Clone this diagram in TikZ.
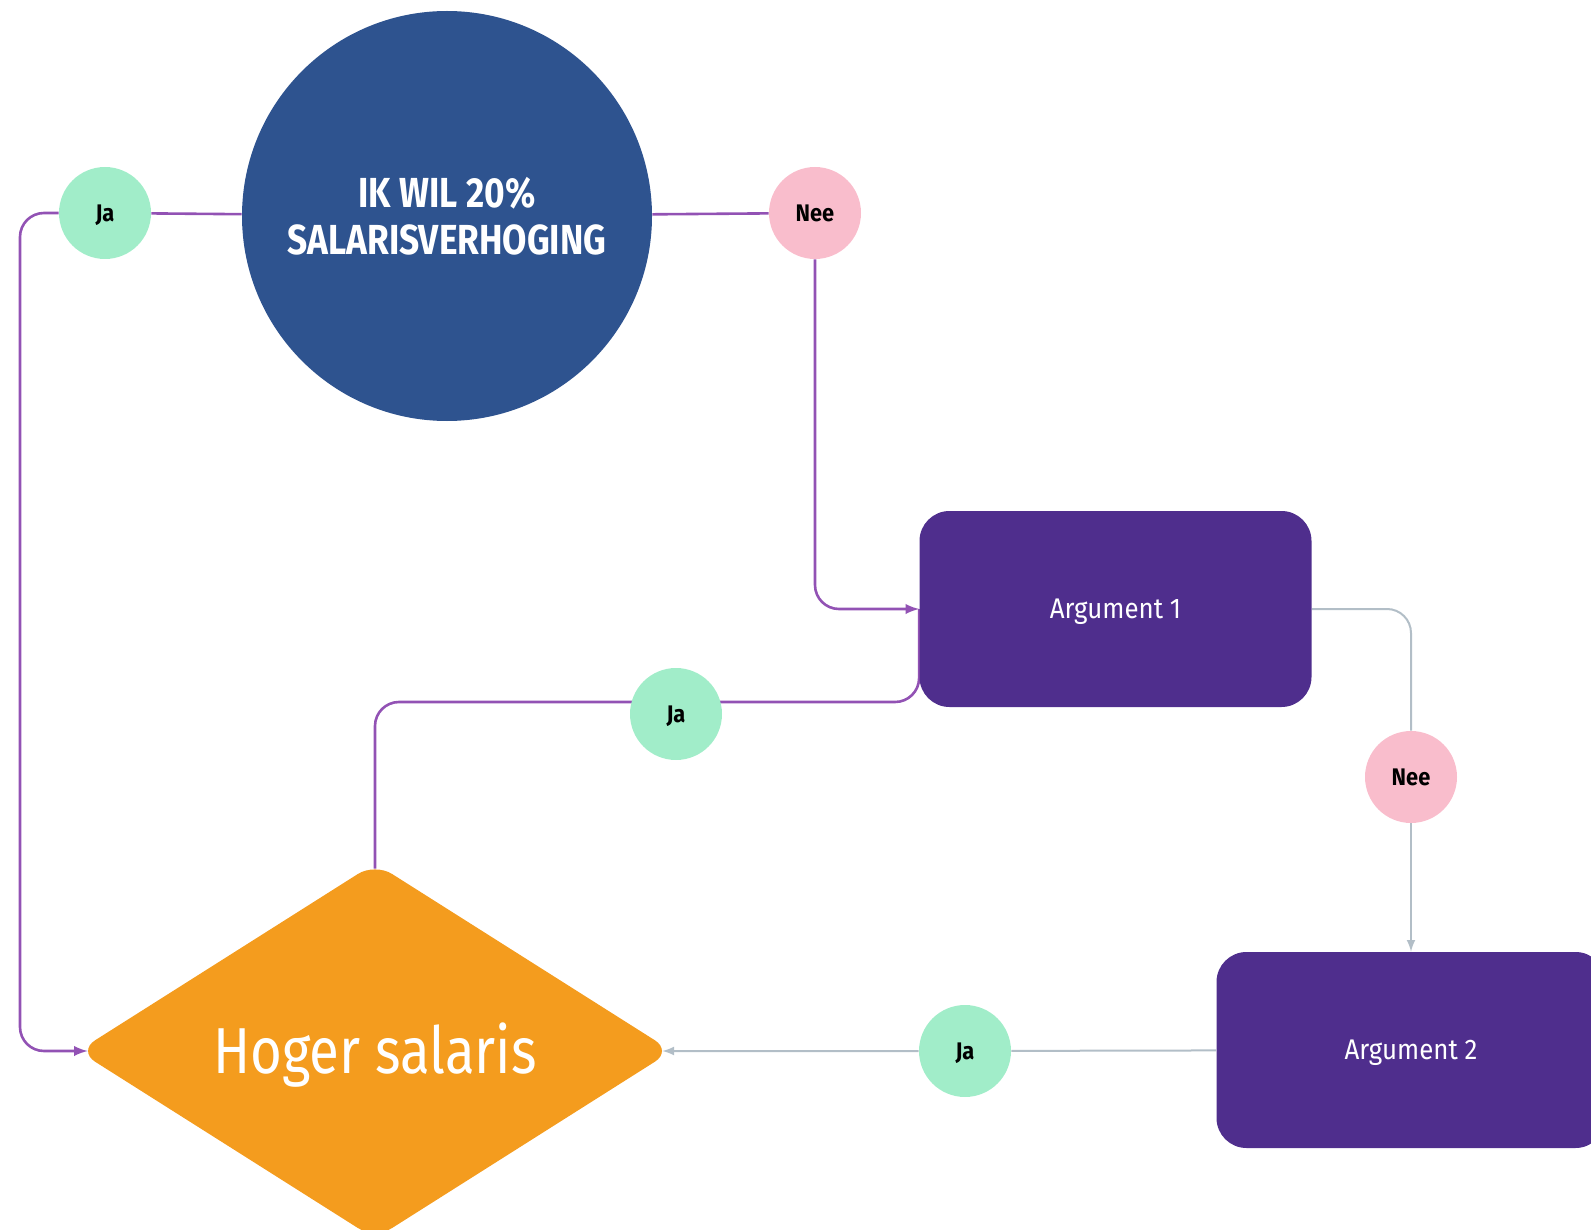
\documentclass[tikz,border=0pt]{standalone}
\usepackage{fontspec}
\setmainfont[FakeStretch=0.91]{Fira Sans}
\newfontfamily\narrowfont[FakeStretch=0.84]{Fira Sans}
\usepackage{xcolor}
\usetikzlibrary{shapes.geometric,backgrounds}
\definecolor{goalblue}{HTML}{2E538F}
\definecolor{argpurple}{HTML}{4F2E8D}
\definecolor{resultorange}{HTML}{F49C1E}
\definecolor{jagreen}{HTML}{A1EDC9}
\definecolor{neepink}{HTML}{F9BDCC}
\definecolor{linepurple}{HTML}{9252B4}
\definecolor{linegray}{HTML}{B2BEC7}
\tikzset{basic/.style={draw=none,
                       text badly centered,inner sep=0pt}}
\tikzset{answer/.style={basic,circle,minimum size=46pt,text height=8.3pt,text depth=0pt,
                        font=\bfseries\fontsize{12}{14}\selectfont}}

\begin{document}
\begin{tikzpicture}[x=0.5pt,y=-0.5pt,>=latex,
      % styles for clarity
      ja/.style     ={answer, fill=jagreen},
      nee/.style    ={answer, fill=neepink},
      goal/.style   ={basic, circle, fill=goalblue, text=white, minimum size=205pt,
                      align=center, font=\narrowfont\bfseries\fontsize{21}{23.5}\selectfont},
      argbox/.style ={basic, rectangle, rounded corners=15pt, fill=argpurple, text=white,
                      minimum width=196pt, minimum height=98pt, text height=9.8pt, text depth=0pt,
                      font=\fontsize{14.2}{16}\selectfont},
      result/.style ={basic, diamond, rounded corners=10pt, fill=resultorange, text=white,
                      minimum width=297pt, minimum height=188pt, text height=22.4pt, text depth=0pt,
                      font=\narrowfont\fontsize{32.5}{36}\selectfont},
      yesline/.style={draw=linepurple, line width=1.3pt, rounded corners=12pt},
      noline/.style ={draw=linegray, line width=1pt, rounded corners=12pt}
    ]
    \useasboundingbox (0,0) rectangle (1591,1230);

    % question and answers
    \node[goal]   (wish) at (447,216)  {IK WIL 20\%\\SALARISVERHOGING};
    \node[ja]     (ja1)  at (105,213)  {Ja};
    \node[nee]    (nee1) at (815,213)  {Nee};

    % arguments
    \node[argbox] (arg1) at (1115.5,609) {Argument 1};
    \node[ja]     (ja2)  at (676,714)  {Ja};
    \node[nee]    (nee2) at (1411,777) {Nee};
    \node[argbox, minimum width=194.5pt] (arg2) at (1411,1050) {Argument 2};
    \node[ja]     (ja3)  at (965,1051) {Ja};

    % outcome
    \node[result] (salary) at (375,1051) {Hoger salaris};

    \coordinate (rail)   at (20,600);
    \coordinate (jarail) at (375,702);

    \begin{scope}[on background layer]
      % yes / no from the question
      \draw[yesline,->] (wish) -- (ja1) -| (rail) |- ([xshift=5pt]salary.west);
      \draw[yesline,->] (wish) -- (nee1) |- (arg1);

      % argument 1 convinces
      \draw[yesline] (arg1.west) |- (jarail) -- ([yshift=-3pt]salary.north);

      % argument 1 fails, try argument 2
      \draw[noline] (arg1) -| (nee2);
      \draw[noline,->] (nee2) -- (arg2);
      \draw[noline,->] (arg2) -- (ja3) -- ([xshift=-5pt]salary.east);
    \end{scope}
  \end{tikzpicture}
\end{document}
